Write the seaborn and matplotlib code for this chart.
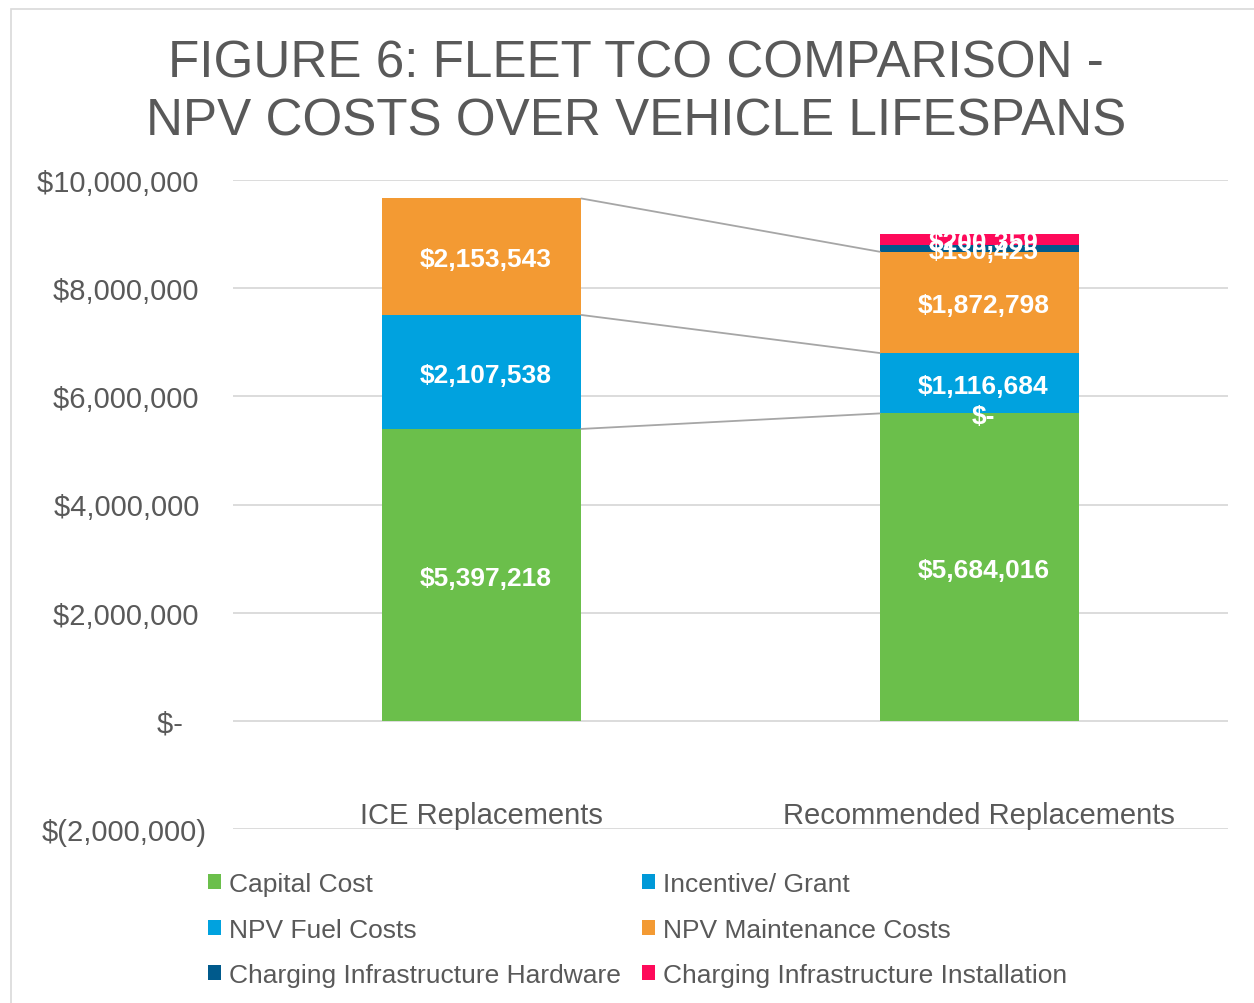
import numpy as np
import pandas as pd
import matplotlib
matplotlib.use("Agg")
import matplotlib.pyplot as plt
import seaborn as sns
from matplotlib.patches import Patch, Rectangle
from matplotlib.ticker import FuncFormatter, FixedLocator

# ---------------- data ----------------
categories = ["ICE Replacements", "Recommended Replacements"]
series_names = ["Capital Cost", "Incentive/ Grant", "NPV Fuel Costs",
                "NPV Maintenance Costs", "Charging Infrastructure Hardware",
                "Charging Infrastructure Installation"]
capital_cost = [5397218, 5684016]
incentive_grant = [np.nan, 0]
npv_fuel_costs = [2107538, 1116684]
npv_maintenance_costs = [2153543, 1872798]
charging_hardware = [np.nan, 130425]
charging_installation = [np.nan, 200359]
series_colors = ["#6BBF4B", "#0099D8", "#00A2DF", "#F39A33", "#005A8C", "#FE0A5A"]
y_tick_values = [-2000000, 0, 2000000, 4000000, 6000000, 8000000, 10000000]
title_text = "FIGURE 6: FLEET TCO COMPARISON -\nNPV COSTS OVER VEHICLE LIFESPANS"

series_values = [capital_cost, incentive_grant, npv_fuel_costs,
                 npv_maintenance_costs, charging_hardware, charging_installation]

# ---------------- style ----------------
sns.set_theme(style="white")
plt.rcParams["font.family"] = ["Liberation Sans", "DejaVu Sans"]
TXT = "#595959"
GRID = "#D9D9D9"

fig = plt.figure(figsize=(12.54, 10.04), dpi=100)
ax = fig.add_axes([233 / 1254, 1 - 830 / 1004, (1228 - 233) / 1254, (830 - 181) / 1004])

BAR_W = 0.4


def money(v, axis_style=False):
    if v == 0:
        return "$-   " if axis_style else "$-"
    if v < 0:
        return "$({:,.0f})".format(-v)
    return ("${:,.0f} " if axis_style else "${:,.0f}").format(v)


bottom = np.zeros(len(categories))
tops = []
for name, vals, col in zip(series_names, series_values, series_colors):
    arr = np.array(vals, dtype=float)
    filled = np.nan_to_num(arr, nan=0.0)
    df = pd.DataFrame({"category": categories, "value": filled})
    sns.barplot(data=df, x="category", y="value", bottom=bottom.copy(), color=col,
                saturation=1, width=BAR_W, ax=ax, errorbar=None, linewidth=0,
                order=categories)
    for i, v in enumerate(arr):
        if not np.isnan(v):
            ax.annotate(money(v), (i, bottom[i] + v / 2), xytext=(3, -2),
                        textcoords="offset points", ha="center", va="center",
                        color="white", fontsize=19, fontweight="bold", zorder=5)
    new_bottom = bottom + filled
    tops.append((arr, new_bottom.copy()))
    bottom = new_bottom

# series lines connecting bars
for arr, top in tops:
    if not np.any(np.isnan(arr)):
        ax.plot([0 + BAR_W / 2, 1 - BAR_W / 2], [top[0], top[1]],
                color="#A6A6A6", lw=1.3, zorder=1)

ax.set_xlim(-0.5, 1.5)
ax.set_ylim(-2000000, 10000000)
ax.yaxis.set_major_locator(FixedLocator(y_tick_values))
ax.yaxis.set_major_formatter(FuncFormatter(lambda v, p: money(v, True)))
ax.grid(axis="y", color=GRID, lw=1.3)
ax.set_axisbelow(True)
for s in ax.spines.values():
    s.set_visible(False)
ax.tick_params(axis="y", length=0, pad=18.7, labelsize=21, labelcolor=TXT)
ax.set_xticks([])
ax.set_xlabel("")
ax.set_ylabel("")
for i, c in enumerate(categories):
    ax.text(i, 0.022, c, transform=ax.get_xaxis_transform(), ha="center",
            va="center", fontsize=21, color=TXT)

fig.text(636 / 1254, 1 - 93 / 1004, title_text, ha="center", va="center",
         fontsize=36.8, color=TXT, linespacing=1.25)

handles = [Patch(facecolor=c, edgecolor="none", label=n)
           for n, c in zip(series_names, series_colors)]
order = [0, 2, 4, 1, 3, 5]
fig.legend([handles[k] for k in order], [series_names[k] for k in order],
           ncol=2, loc="upper left", bbox_to_anchor=(208 / 1254, 1 - 873 / 1004),
           frameon=False, fontsize=19, labelcolor=TXT, handlelength=0.5,
           handleheight=0.5, handletextpad=0.3, columnspacing=0.8,
           labelspacing=0.82, borderpad=0, borderaxespad=0)

fig.add_artist(Rectangle((11 / 1254, -0.05), 1.2, 1 - 10 / 1004 + 0.05,
                         transform=fig.transFigure, fill=False,
                         edgecolor="#D9D9D9", lw=1.2))

fig.savefig("out.png", dpi=100)
